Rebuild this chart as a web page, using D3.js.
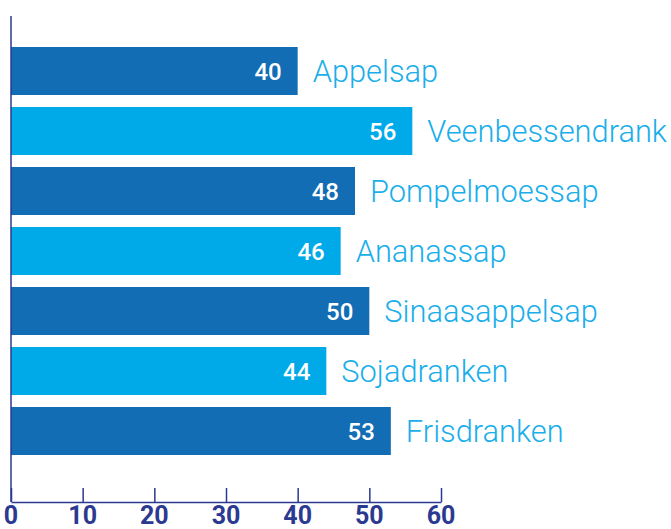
<!DOCTYPE html>
<html>
<head>
<meta charset="utf-8">
<script src="https://cdn.jsdelivr.net/npm/d3@7"></script>
<style>
  body { margin: 0; background: #fff; }
  svg { display: block; }
</style>
</head>
<body>
<svg id="chart" width="671" height="529"></svg>
<script>
// data
const categories = ['Appelsap', 'Veenbessendrank', 'Pompelmoessap', 'Ananassap', 'Sinaasappelsap', 'Sojadranken', 'Frisdranken'];
const values = [40, 56, 48, 46, 50, 44, 53];
const ticks = [0, 10, 20, 30, 40, 50, 60];

const dark = '#136db4', light = '#00aae9', navy = '#2b3990';

const svg = d3.select('#chart');

const x = d3.scaleLinear().domain([0, 60]).range([11, 441]);
const y = d3.scaleBand().domain(categories).range([41, 461])
            .paddingInner(0.2).paddingOuter(0.1);

const data = categories.map((c, i) => ({cat: c, val: values[i], i: i}));

// bars
svg.selectAll('rect.bar').data(data).enter().append('rect')
   .attr('class', 'bar')
   .attr('x', x(0)).attr('y', d => y(d.cat))
   .attr('width', d => x(d.val) - x(0))
   .attr('height', y.bandwidth())
   .attr('fill', d => d.i % 2 === 0 ? dark : light);

// value labels inside bar
svg.selectAll('text.val').data(data).enter().append('text')
   .attr('class', 'val')
   .attr('x', d => x(d.val) - 16)
   .attr('y', d => y(d.cat) + y.bandwidth()/2 + 8.5)
   .attr('text-anchor', 'end')
   .attr('fill', '#fff')
   .attr('font-family', 'Roboto, sans-serif')
   .attr('font-weight', 500)
   .attr('font-size', 24)
   .text(d => d.val);

// category labels after bar
svg.selectAll('text.cat').data(data).enter().append('text')
   .attr('class', 'cat')
   .attr('x', d => x(d.val) + 15)
   .attr('y', d => y(d.cat) + y.bandwidth()/2 + 11)
   .attr('fill', '#1aaeea')
   .attr('font-family', 'Roboto, sans-serif')
   .attr('font-weight', 300)
   .attr('font-size', 30.8)
   .text(d => d.cat);

// left axis line
svg.append('line')
   .attr('x1', x(0)).attr('x2', x(0))
   .attr('y1', 16).attr('y2', 502)
   .attr('stroke', navy).attr('stroke-width', 1.5);

// bottom axis
const axis = svg.append('g')
   .attr('transform', 'translate(0,502)')
   .call(d3.axisTop(x).tickValues(ticks).tickSize(14).tickSizeOuter(0).tickFormat(''));
axis.select('.domain').attr('stroke', navy).attr('stroke-width', 1.5);
axis.selectAll('.tick line').attr('stroke', navy).attr('stroke-width', 1.5);

svg.selectAll('text.tick').data(ticks).enter().append('text')
   .attr('class', 'tick')
   .attr('x', d => x(d))
   .attr('y', 524)
   .attr('text-anchor', 'middle')
   .attr('fill', navy)
   .attr('font-family', 'Roboto, sans-serif')
   .attr('font-weight', 700)
   .attr('font-size', 25)
   .text(d => d);
</script>
</body>
</html>
